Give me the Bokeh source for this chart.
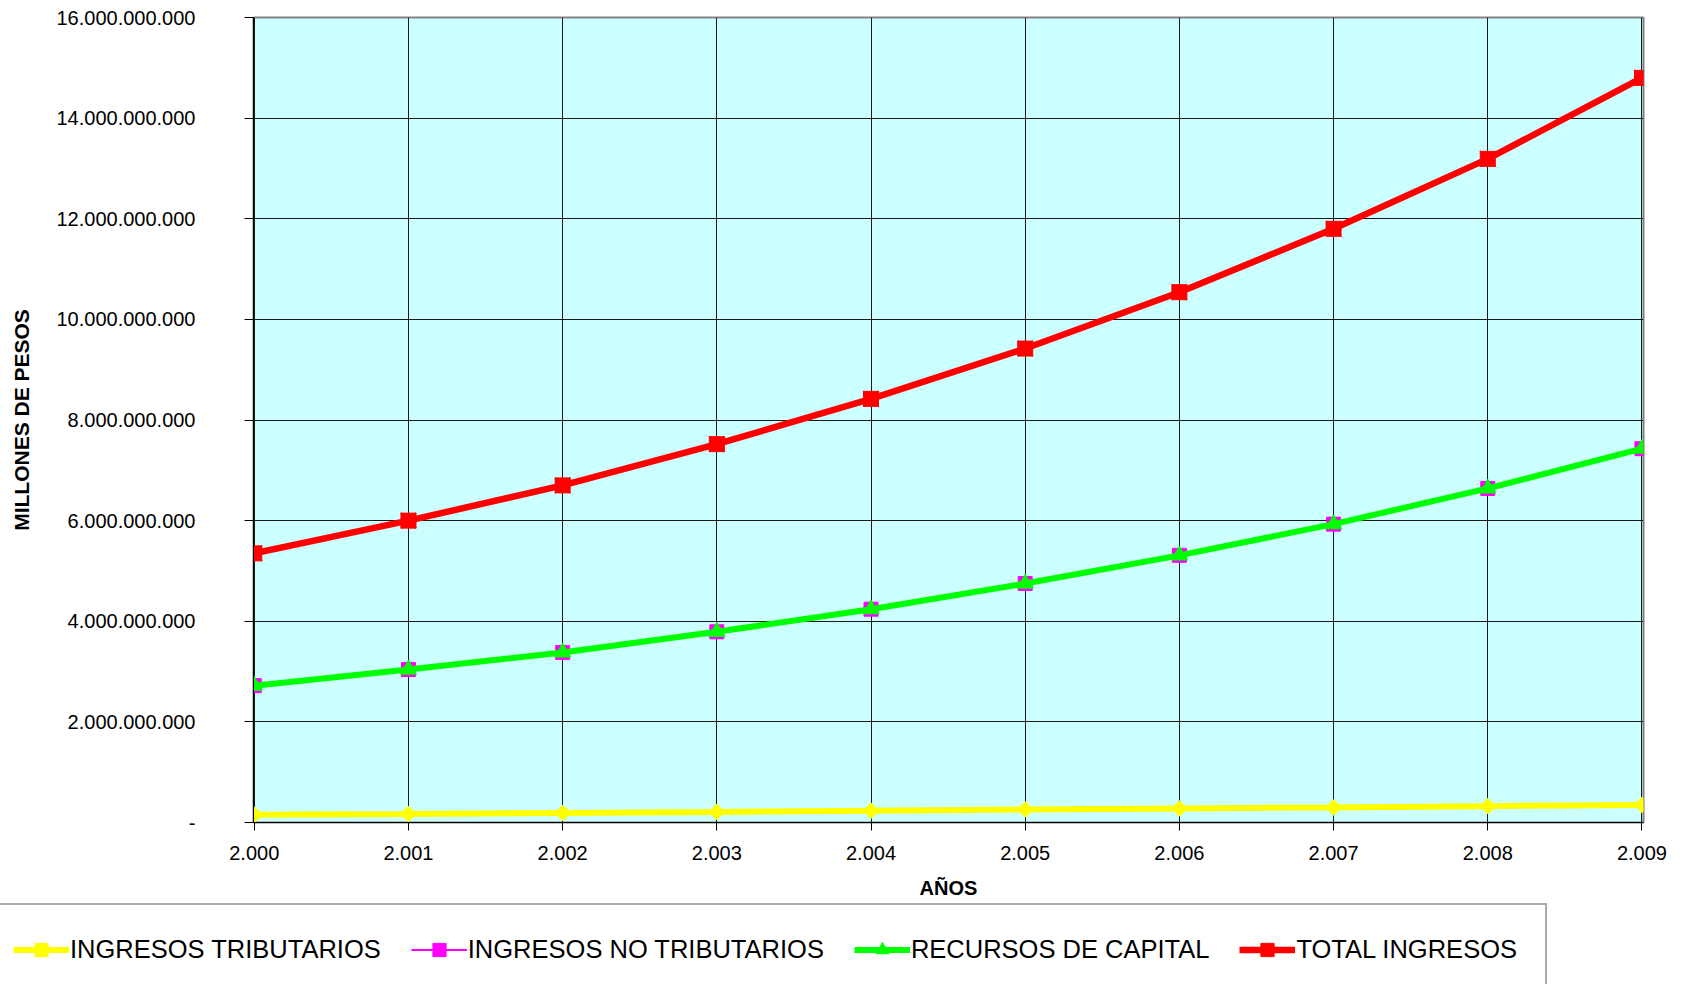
import math
from bokeh.plotting import figure
from bokeh.models import Range1d, FixedTicker, Legend, LegendItem
from bokeh.embed import file_html
from bokeh.resources import INLINE

# ---------------- data ----------------
years = [2000, 2001, 2002, 2003, 2004, 2005, 2006, 2007, 2008, 2009]
year_labels = ["2.000", "2.001", "2.002", "2.003", "2.004",
               "2.005", "2.006", "2.007", "2.008", "2.009"]

ingresos_tributarios = [0.155e9, 0.170e9, 0.190e9, 0.210e9, 0.235e9,
                        0.260e9, 0.280e9, 0.300e9, 0.325e9, 0.350e9]
ingresos_no_tributarios = [2.72e9, 3.04e9, 3.38e9, 3.79e9, 4.24e9,
                           4.75e9, 5.31e9, 5.93e9, 6.64e9, 7.43e9]
recursos_de_capital = [2.72e9, 3.04e9, 3.38e9, 3.79e9, 4.24e9,
                       4.75e9, 5.31e9, 5.93e9, 6.64e9, 7.43e9]
total_ingresos = [5.35e9, 6.00e9, 6.70e9, 7.52e9, 8.42e9,
                  9.42e9, 10.54e9, 11.80e9, 13.19e9, 14.80e9]

y_ticks = [0, 2000000000, 4000000000, 6000000000, 8000000000,
           10000000000, 12000000000, 14000000000, 16000000000]
y_tick_labels = ["-", "2.000.000.000", "4.000.000.000", "6.000.000.000",
                 "8.000.000.000", "10.000.000.000", "12.000.000.000",
                 "14.000.000.000", "16.000.000.000"]

series_names = ["INGRESOS TRIBUTARIOS", "INGRESOS NO TRIBUTARIOS",
                "RECURSOS DE CAPITAL", "TOTAL INGRESOS"]

FONT = "Liberation Sans"
W = 1683

p = figure(width=W, height=903, output_backend="svg", toolbar_location=None,
           x_range=Range1d(1999.995, 2009.01), y_range=Range1d(0, 16e9),
           min_border_left=253, min_border_right=40, min_border_top=17,
           min_border_bottom=81, background_fill_color="#CCFFFF",
           border_fill_color="white")

p.outline_line_color = "#808080"
p.outline_line_width = 2

# axes
p.xaxis.ticker = FixedTicker(ticks=years)
p.xaxis.major_label_overrides = {y: l for y, l in zip(years, year_labels)}
p.yaxis.ticker = FixedTicker(ticks=y_ticks)
p.yaxis.major_label_overrides = {t: l for t, l in zip(y_ticks, y_tick_labels)}

for ax in (p.xaxis, p.yaxis):
    ax.axis_line_color = "black"
    ax.axis_line_width = 1
    ax.major_tick_line_color = "black"
    ax.major_tick_in = 0
    ax.minor_tick_line_color = None
    ax.major_label_text_font = FONT
    ax.major_label_text_font_size = "20px"
    ax.major_label_text_color = "black"
    ax.axis_label_text_font = FONT
    ax.axis_label_text_font_style = "bold"
    ax.axis_label_text_color = "black"

p.xaxis.major_tick_out = 8
p.xaxis.major_label_standoff = 15
p.xaxis.axis_label = "AÑOS"
p.xaxis.axis_label_text_font_size = "20px"
p.xaxis.axis_label_standoff = 14

p.yaxis.major_tick_out = 9
p.yaxis.major_label_standoff = 49
p.yaxis.axis_label = "MILLONES DE PESOS"
p.yaxis.axis_label_text_font_size = "21px"
p.yaxis.axis_label_standoff = 20

p.xgrid.grid_line_color = "#1a1a1a"
p.ygrid.grid_line_color = "#1a1a1a"
p.xgrid.grid_line_width = 1
p.ygrid.grid_line_width = 1

styles = [
    dict(color="#FFFF00", lw=6, marker="square", size=11, angle=math.pi / 4),
    dict(color="#FF00FF", lw=2, marker="square", size=14, angle=0),
    dict(color="#00FF00", lw=6, marker="triangle", size=16, angle=0),
    dict(color="#FF0000", lw=6.5, marker="square", size=15, angle=0),
]
series = [ingresos_tributarios, ingresos_no_tributarios,
          recursos_de_capital, total_ingresos]


def draw(fig):
    out = []
    for vals, st in zip(series, styles):
        rs = [fig.line(years, vals, line_color=st["color"], line_width=st["lw"])]
        rs.append(fig.scatter(years, vals, marker=st["marker"], size=st["size"],
                              angle=st["angle"], fill_color=st["color"],
                              line_color=st["color"]))
        if st["color"] == "#FF0000":
            rs.append(fig.scatter(years, vals, marker="x", size=22,
                                  line_color=st["color"], line_width=1.5))
        out.append(rs)
    return out


draw(p)

# legend strip below the chart (separate root, no frame alignment)
p2 = figure(width=W, height=81, output_backend="svg", toolbar_location=None,
            x_range=Range1d(0, 1), y_range=Range1d(0, 1),
            x_axis_location=None, y_axis_location=None,
            min_border=0, border_fill_color="white",
            background_fill_color="white")
p2.grid.visible = False
p2.outline_line_color = None
leg_rs = draw(p2)

legend = Legend(items=[LegendItem(label=n, renderers=r)
                       for n, r in zip(series_names, leg_rs)],
                orientation="horizontal", location=(-17, -12))
legend.label_text_font = FONT
legend.label_text_font_size = "25.5px"
legend.label_text_color = "black"
legend.glyph_width = 56
legend.glyph_height = 33
legend.label_standoff = 1
legend.spacing = 30
legend.padding = 28
legend.margin = 0
legend.border_line_color = "#555555"
legend.border_line_width = 2
legend.background_fill_color = "white"
legend.background_fill_alpha = 1
p2.add_layout(legend, "center")

open("out.html", "w").write(file_html([p, p2], INLINE))
